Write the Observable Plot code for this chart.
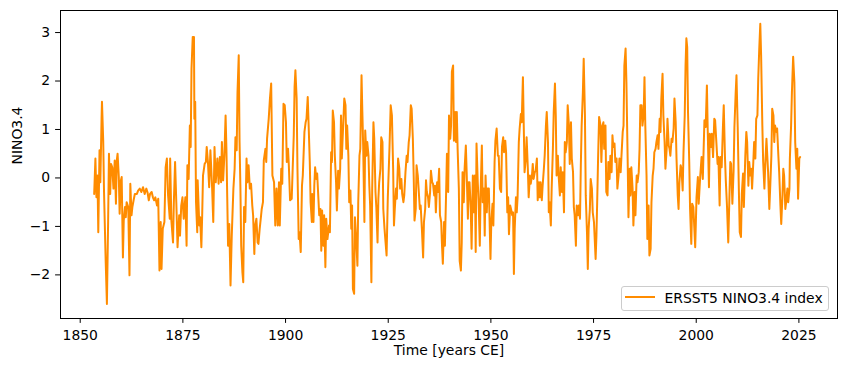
<!DOCTYPE html>
<html>
<head>
<meta charset="utf-8">
<script src="https://cdn.jsdelivr.net/npm/d3@7"></script>
<script src="https://cdn.jsdelivr.net/npm/@observablehq/plot@0.6"></script>
<style>
  html, body { margin: 0; padding: 0; background: #fff; }
  #wrap { position: relative; width: 844px; height: 371px; overflow: hidden; }
  .legend { position: absolute; left: 620.5px; top: 286px; width: 208px; height: 25px; box-sizing: border-box;
            border: 1px solid #cccccc; border-radius: 3px; background: rgba(255,255,255,0.8);
            font-family: "DejaVu Sans", sans-serif; font-size: 13.9px; color: #000; }
  .legend .swatch { position: absolute; left: 3px; top: 9.3px; width: 30px; height: 2.1px; background: #ff8c00; }
  .legend .lab { position: absolute; left: 43px; top: 3.2px; line-height: 16px; white-space: nowrap; }
</style>
</head>
<body>
<div id="wrap">
  <div id="chart"></div>
  <div class="legend"><span class="swatch"></span><span class="lab">ERSST5 NINO3.4 index</span></div>
</div>
<script>
// Tick values
const xTicks = [1850, 1875, 1900, 1925, 1950, 1975, 2000, 2025];
const yTicks = [-2, -1, 0, 1, 2, 3];

// NINO3.4 readings (time in decimal years, anomaly in degC)
const years1853 = [1853.4,1853.7,1853.95,1854.2,1854.4,1854.7,1854.9,1855.2,1855.3,1855.6,
1855.8,1856.2,1856.5,1856.8,1857.0,1857.3,1857.5,1857.8,1858.1,1858.4,
1858.7,1858.9,1859.1,1859.4,1859.6,1859.9,1860.1,1860.4,1860.6,1860.9,
1861.1,1861.3,1861.7,1862.0,1862.2,1862.5,1862.7,1863.0,1863.3,1863.8,
1864.1,1864.5,1864.9,1865.3,1865.7,1866.1,1866.4,1866.7,1867.0,1867.4,
1867.7,1868.0,1868.3,1868.7,1869.0,1869.3,1869.6,1869.8,1870.1,1870.5,
1870.8,1871.1,1871.4,1871.8,1871.9,1872.2,1872.6,1872.8];
const nino1853 = [-0.33,0.40,-0.40,0.05,-1.12,0.57,-0.09,1.22,1.57,0.77,
-0.29,-1.71,-2.60,-0.88,0.50,-0.33,0.29,0.22,-0.22,0.36,
-0.53,0.36,0.50,0.02,-0.74,-0.05,0.02,-1.64,-0.88,-0.60,
-0.81,-0.50,-0.60,-2.01,-0.12,-0.77,-0.60,-0.46,-0.33,-0.33,
-0.26,-0.22,-0.29,-0.19,-0.33,-0.22,-0.30,-0.46,-0.33,-0.29,
-0.40,-0.46,-0.40,-0.57,-0.43,-1.91,-0.91,-1.88,-1.05,-0.91,
0.22,0.40,-0.36,-0.84,0.40,-0.88,-1.33,-0.50];

const years1873 = [1873.1,1873.4,1873.7,1874.1,1874.3,1874.6,1874.9,1875.2,1875.6,1875.9,
1876.1,1876.4,1876.7,1876.9,1877.1,1877.4,1877.7,1877.8,1878.0,1878.2,
1878.5,1878.6,1879.0,1879.2,1879.5,1879.7,1879.9,1880.3,1880.6,1880.8,
1881.1,1881.4,1881.7,1882.1,1882.4,1882.7,1883.0,1883.4,1883.7,1884.0,
1884.3,1884.5,1884.8,1885.1,1885.4,1885.6,1885.8,1886.0,1886.3,1886.6,
1886.9,1887.3,1887.6,1887.8,1888.1,1888.3,1888.6,1888.8,1889.0,1889.2,
1889.5,1889.7,1889.9,1890.2,1890.5,1890.7,1891.0,1891.3,1891.6,1891.9,
1892.1,1892.4,1892.6,1892.9,1893.2,1893.4,1893.7,1894.0,1894.2,1894.5,
1894.7,1895.1,1895.3,1895.5,1895.9,1896.2,1896.5,1896.8,1897.2,1897.5,
1897.8,1898.1,1898.4,1898.6];
const nino1873 = [0.33,-0.50,-1.43,-0.77,-1.19,-0.57,-0.40,-0.84,-0.40,-1.40,
0.26,-0.02,1.08,0.64,2.26,2.91,2.91,1.22,1.57,-0.50,
-1.12,-0.05,-0.98,-0.81,-1.43,-0.77,0.05,0.29,0.33,0.64,
0.33,-0.19,0.57,-0.16,-0.91,0.64,-0.09,0.40,-0.12,0.43,
-0.09,0.74,-0.05,0.46,1.29,0.60,-0.40,-1.40,-0.95,-2.22,
-1.19,-0.22,0.19,0.84,0.57,1.77,2.53,0.74,-0.16,-1.40,
-1.95,-2.15,-0.60,-0.91,0.40,-0.09,0.26,-0.22,-0.12,-0.57,
-0.77,-1.57,-0.98,-0.84,-1.33,-1.36,-1.05,-0.81,-0.64,-0.50,
0.36,0.60,0.33,0.81,1.22,1.64,1.95,0.05,-0.09,-0.98,
-0.22,-0.98,-0.09,-0.98];

const years1899 = [1898.95,1899.2,1899.5,1899.8,1900.1,1900.3,1900.6,1900.8,1901.1,1901.5,
1901.7,1902.0,1902.2,1902.4,1902.7,1902.9,1903.2,1903.4,1903.7,1904.0,
1904.2,1904.6,1904.9,1905.1,1905.4,1905.6,1905.9,1906.1,1906.4,1906.5,
1906.8,1907.0,1907.2,1907.5,1907.7,1908.0,1908.2,1908.5,1908.7,1908.9,
1909.2,1909.4,1909.7,1909.9,1910.2,1910.6,1910.8,1911.1,1911.3,1911.5,
1911.8,1912.0,1912.3,1912.5,1912.8,1913.0,1913.3,1913.5,1913.7,1914.0,
1914.3,1914.6,1914.8,1915.0,1915.3,1915.5,1915.8,1916.0,1916.2,1916.4,
1916.7,1916.9,1917.2,1917.5,1917.7,1918.0,1918.2,1918.5,1918.7,1918.9,
1919.2,1919.4,1919.7,1919.9,1920.2,1920.4,1920.6,1920.9,1921.1,1921.4,
1921.6,1921.9,1922.1,1922.4,1922.6,1922.8,1923.1,1923.3,1923.6,1923.8,
1924.1];
const nino1899 = [0.19,-0.12,1.53,1.50,1.15,0.33,0.60,0.26,-0.46,-0.43,
0.09,0.88,1.88,2.22,1.64,0.19,-1.26,-1.12,-1.53,-0.16,
0.05,0.95,1.15,1.22,1.67,1.15,0.33,-0.50,-0.91,-0.33,
-0.91,-0.16,0.22,-0.02,0.09,-0.43,-0.77,-0.64,-1.50,-0.67,
-1.40,-0.77,-1.84,-0.84,-1.26,-0.98,-1.12,0.53,0.33,1.39,
1.15,0.46,-0.09,-0.67,0.15,-0.22,0.19,1.29,0.40,1.02,
1.64,1.50,0.60,1.08,0.46,-0.50,-0.26,-1.05,-0.57,-2.29,
-2.39,-0.81,-1.26,-1.81,-0.50,0.46,0.60,2.12,1.36,0.67,
-0.91,0.98,0.46,0.74,0.46,-0.16,-0.57,-2.15,-0.22,1.15,
0.81,-0.29,-0.60,-1.33,-0.43,-0.09,0.19,0.84,0.74,-0.64,
-1.05];

const years1924 = [1924.6,1924.9,1925.3,1925.6,1925.9,1926.2,1926.4,1926.6,1926.9,1927.1,
1927.4,1927.7,1927.9,1928.2,1928.4,1928.7,1928.9,1929.2,1929.5,1929.7,
1930.0,1930.2,1930.5,1930.7,1931.0,1931.2,1931.4,1931.7,1931.9,1932.2,
1932.4,1932.7,1932.9,1933.2,1933.5,1933.7,1934.0,1934.2,1934.4,1934.7,
1934.9,1935.2,1935.4,1935.7,1935.9,1936.2,1936.4,1936.6,1936.9,1937.1,
1937.4,1937.6,1937.9,1938.1,1938.3,1938.6,1938.8,1939.1,1939.3,1939.6,
1939.8,1940.1,1940.3,1940.5,1940.8,1941.0,1941.3,1941.5,1941.7,1941.9,
1942.2,1942.4,1942.7,1942.9,1943.1,1943.4,1943.6,1943.9,1944.1,1944.4,
1944.6,1944.8,1945.1,1945.3,1945.6,1945.8,1946.1,1946.3,1946.5,1946.8,
1947.0,1947.3,1947.5,1947.8,1948.0,1948.3,1948.5,1948.7,1949.0,1949.2,
1949.5];
const nino1924 = [-1.60,-0.40,0.60,1.50,1.29,0.19,-0.98,-0.64,-0.22,-0.43,
0.40,0.19,-0.22,-0.02,-0.33,-0.50,-0.36,0.12,0.46,0.33,
0.74,0.88,1.50,1.43,0.81,0.05,-0.88,-0.64,0.26,0.05,
-0.22,-0.64,-0.57,-1.05,-1.64,-0.91,-0.64,-0.05,-0.29,-0.40,
-0.60,-0.29,0.15,-0.09,-0.12,-0.36,-0.16,-0.71,-0.09,-0.29,
0.19,-0.77,-0.91,-1.40,-1.77,-0.91,-1.40,-0.29,0.50,-0.29,
1.29,0.81,1.08,2.19,2.32,0.77,1.36,0.74,1.36,0.60,
-0.22,-1.71,-1.91,-1.33,0.12,-0.50,0.19,0.67,0.12,-0.84,
-0.09,-0.09,-0.64,-1.46,0.05,-0.71,0.05,-1.53,0.71,-0.09,
-0.46,-1.40,-0.29,0.67,-0.50,-0.22,-1.19,0.05,-0.71,-0.22,
-0.22];

const years1950 = [1949.9,1950.1,1950.4,1950.6,1950.9,1951.1,1951.4,1951.7,1951.9,1952.2,
1952.5,1952.7,1953.0,1953.2,1953.5,1953.7,1954.0,1954.2,1954.4,1954.7,
1954.9,1955.2,1955.4,1955.6,1955.8,1956.1,1956.3,1956.5,1956.8,1957.0,
1957.3,1957.5,1957.8,1958.0,1958.2,1958.5,1958.7,1959.0,1959.2,1959.5,
1959.7,1960.0,1960.2,1960.4,1960.7,1960.9,1961.2,1961.4,1961.7,1961.9,
1962.1,1962.4,1962.6,1962.9,1963.1,1963.4,1963.6,1963.9,1964.1,1964.3,
1964.6,1964.8,1965.1,1965.3,1965.6,1965.8,1966.0,1966.3,1966.5,1966.8,
1967.0,1967.3,1967.5,1967.8,1968.0,1968.2,1968.5,1968.7,1969.0,1969.2,
1969.5,1969.7,1970.0,1970.2,1970.4,1970.7,1970.9,1971.2,1971.4,1971.7,
1971.9,1972.1,1972.4,1972.6,1972.9,1973.1,1973.4,1973.6,1973.8,1974.1,
1974.3,1974.6,1974.8];
const nino1950 = [-1.67,-0.91,-0.53,-0.98,0.33,0.77,1.02,0.46,0.46,-0.22,
-0.29,0.64,0.84,0.53,0.77,0.53,-0.71,-0.40,-1.16,-0.57,
-0.64,-0.77,-0.71,-1.98,-1.05,-0.40,-0.71,-0.40,0.74,1.02,
1.32,1.15,2.08,1.08,0.12,0.40,0.84,0.19,-0.40,0.05,
-0.12,0.05,0.29,-0.02,0.12,0.15,0.40,-0.46,-0.09,-0.40,
-0.09,-0.46,-0.16,0.19,0.46,1.08,1.36,0.74,-0.71,-0.50,
-0.98,-0.22,0.60,1.36,1.95,1.29,0.05,0.46,0.05,-0.36,
0.22,-0.29,0.12,-0.71,0.74,0.53,0.74,1.50,1.08,0.29,
1.15,0.40,0.12,-0.60,-0.77,-1.40,-0.57,-0.77,-0.57,-0.84,
0.26,1.08,1.77,2.46,1.29,-0.36,-1.12,-1.88,-1.05,-0.64,
-0.02,-0.22,-0.71];

const years1975 = [1975.1,1975.5,1975.7,1975.9,1976.1,1976.35,1976.7,1976.9,1977.2,1977.4,
1977.6,1977.9,1978.1,1978.4,1978.6,1978.9,1979.1,1979.4,1979.6,1979.8,
1980.1,1980.3,1980.6,1980.8,1981.1,1981.3,1981.6,1981.8,1982.1,1982.3,
1982.5,1982.8,1983.0,1983.3,1983.5,1983.8,1984.0,1984.2,1984.5,1984.7,
1985.0,1985.2,1985.5,1985.7,1986.0,1986.2,1986.4,1986.7,1986.9,1987.2,
1987.4,1987.6,1987.9,1988.1,1988.4,1988.6,1988.9,1989.1,1989.4,1989.6,
1989.8,1990.1,1990.3,1990.6,1990.8,1991.1,1991.3,1991.5,1991.8,1992.0,
1992.3,1992.5,1992.8,1993.0,1993.3,1993.5,1993.7,1994.0,1994.2,1994.5,
1994.7,1995.0,1995.2,1995.5,1995.7,1995.9,1996.2,1996.4,1996.7,1996.9,
1997.2,1997.4,1997.6,1997.8,1998.0,1998.3,1998.5];
const nino1975 = [-0.91,-1.67,-1.19,-0.43,0.40,1.26,1.08,0.33,1.08,1.15,
0.60,1.08,-0.29,-0.36,0.33,-0.02,0.46,0.12,0.88,0.64,
0.71,0.33,0.40,-0.22,0.05,0.40,0.12,0.46,0.95,1.08,
2.32,2.67,1.98,0.40,-0.81,0.19,-0.36,0.22,-0.22,-0.98,
-0.29,-0.77,0.05,-0.09,0.12,0.60,1.50,1.50,1.08,1.29,
2.08,1.08,0.05,-1.26,-0.57,-1.60,-1.46,-0.50,0.05,0.19,
0.53,0.60,0.74,0.88,0.60,1.22,0.95,1.64,2.15,1.29,
0.74,0.19,0.60,1.22,0.67,0.60,0.46,0.81,0.74,1.02,
1.64,1.15,0.40,-0.36,-0.64,-0.09,0.26,0.19,-0.26,0.53,
1.29,2.32,2.88,2.70,1.36,0.33,-0.64];

const years1999 = [1998.8,1999.0,1999.3,1999.75,2000.07,2000.4,2000.6,2000.96,2001.3,2001.6,
2002.0,2002.3,2002.6,2002.8,2003.1,2003.3,2003.6,2003.8,2004.1,2004.4,
2004.6,2004.9,2005.2,2005.4,2005.7,2005.9,2006.2,2006.5,2006.7,2007.0,
2007.2,2007.5,2007.8,2008.0,2008.3,2008.5,2008.8,2009.1,2009.3,2009.6,
2009.8,2010.1,2010.4,2010.6,2010.9,2011.1,2011.4,2011.6];
const nino1999 = [-1.36,-0.53,-0.60,-1.43,-0.40,0.02,-0.53,0.02,0.43,-0.02,
1.19,1.05,1.91,0.98,-0.19,0.91,0.64,0.91,0.43,1.22,
1.19,0.74,0.29,0.43,-0.57,0.43,0.22,1.05,1.50,0.43,
-0.05,-0.60,-1.33,-0.67,0.33,0.29,-0.53,0.15,1.05,1.74,
2.12,1.05,-0.33,-1.12,-1.22,-0.33,0.09,-0.60];

const years2012 = [2011.95,2012.2,2012.4,2012.7,2012.9,2013.2,2013.4,2013.6,2013.9,2014.1,
2014.4,2014.6,2014.9,2015.1,2015.35,2015.6,2015.8,2016.1,2016.3,2016.6,
2016.8,2017.1,2017.3,2017.5,2017.8,2018.0,2018.3,2018.5,2018.8,2019.0,
2019.2,2019.5,2019.7,2020.0,2020.2,2020.5,2020.7,2021.0,2021.2,2021.4,
2021.7,2021.9,2022.2,2022.4,2022.7,2022.8,2023.1,2023.3,2023.6,2023.9,
2024.1,2024.4,2024.6,2024.8,2025.1,2025.3];
const nino2012 = [0.46,0.95,0.74,-0.16,0.33,0.05,0.19,-0.22,0.33,0.74,
0.40,1.22,1.29,2.05,2.67,3.18,2.53,1.08,0.33,-0.22,
0.26,0.81,0.46,0.12,-0.64,-0.22,0.46,1.43,1.29,0.74,
1.08,0.95,1.02,0.46,0.12,-0.57,-0.95,-0.36,0.19,0.05,
-0.64,-0.50,-0.22,-0.50,-0.22,0.40,1.08,1.77,2.50,1.98,
0.74,0.19,0.60,-0.43,0.40,0.43];

const segments = [
  [years1853, nino1853], [years1873, nino1873], [years1899, nino1899], [years1924, nino1924],
  [years1950, nino1950], [years1975, nino1975], [years1999, nino1999], [years2012, nino2012]
];
segments.forEach(([ys, vs], k) => { if (ys.length !== vs.length) console.error("length mismatch in segment " + k, ys.length, vs.length); });
const data = segments.flatMap(([ys, vs]) => ys.map((t, i) => ({t, v: vs[i]})));

const chart = Plot.plot({
  width: 844,
  height: 371,
  marginTop: 10,
  marginRight: 7,
  marginBottom: 53,
  marginLeft: 60,
  style: {fontFamily: '"DejaVu Sans", sans-serif', fontSize: "13.9px", color: "#000", background: "#fff"},
  x: {domain: [1845.2, 2034.4], label: null},
  y: {domain: [-2.90, 3.455], label: null},
  marks: [
    Plot.line(data, {x: "t", y: "v", stroke: "#ff8c00", strokeWidth: 2.0}),
    Plot.frame({stroke: "#000", strokeWidth: 1}),
    Plot.axisX(xTicks, {tickSize: 4.9, tickPadding: 7, tickFormat: d => String(d), label: null, fontSize: 13.9}),
    Plot.axisY(yTicks, {tickSize: 4.9, tickPadding: 5.4, label: null, fontSize: 13.9}),
    Plot.text(["Time [years CE]"], {frameAnchor: "bottom", dy: 36.5, fontSize: 13.9, fill: "#000"}),
    Plot.text(["NINO3.4"], {frameAnchor: "left", dx: -43, rotate: -90, fontSize: 13.9, fill: "#000"})
  ]
});
document.getElementById("chart").appendChild(chart);
</script>
</body>
</html>
